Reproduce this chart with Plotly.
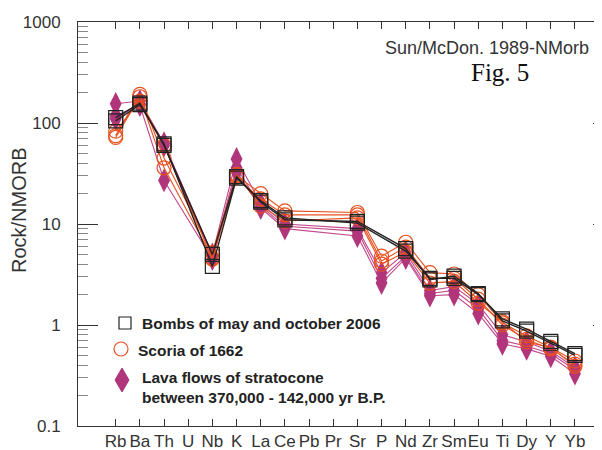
import plotly.graph_objects as go

categories = ["Rb", "Ba", "Th", "U", "Nb", "K", "La", "Ce", "Pb", "Pr",
              "Sr", "P", "Nd", "Zr", "Sm", "Eu", "Ti", "Dy", "Y", "Yb"]

# Values normalised to N-MORB (None = not analysed)
#            Rb   Ba   Th   U    Nb   K    La   Ce    Pb   Pr   Sr    P    Nd   Zr   Sm   Eu   Ti    Dy    Y     Yb
bombs_1  = [105, 152, 62, None, 3.8, 28.5, 17, 11.5, None, None, 10.2, None, 5.4, 2.9, 2.9, 2.0, 1.15, 0.91, 0.69, 0.52]
bombs_2  = [113, 157, 60, None, 5.0, 29.5, 16.5, 11.0, None, None, 10.6, None, 5.7, 2.8, 3.05, 2.05, 1.10, 0.87, 0.66, 0.50]

scoria_1 = [75, 192, 45, None, 5.2, 30, 20, 13.5, None, None, 13.0, 4.8, 6.6, 3.3, 3.2, 2.0, 1.05, 0.78, 0.60, 0.44]
scoria_2 = [72, 182, 36, None, 4.6, 29, 17.7, 12.3, None, None, 12.3, 4.3, 5.9, 2.9, 2.9, 1.8, 1.00, 0.72, 0.58, 0.41]
scoria_3 = [83, 165, 60, None, 4.5, 31, 15, 10.7, None, None, 11.5, 4.0, 5.3, 2.6, 2.7, 1.65, 1.08, 0.68, 0.60, 0.39]

lava_1   = [155, 165, 63, None, 5.0, 44, 16, 10.0, None, None, 9.0, 3.3, 5.2, 2.2, 2.4, 1.6, 0.80, 0.68, 0.55, 0.38]
lava_2   = [110, 155, 60, None, 4.8, 36, 15, 9.5, None, None, 8.5, 2.9, 4.8, 2.05, 2.2, 1.45, 0.70, 0.62, 0.52, 0.36]
lava_3   = [118, 150, 27, None, 4.5, 33, 14.4, 9.0, None, None, 7.6, 2.6, 4.6, 1.95, 2.0, 1.3, 0.65, 0.58, 0.49, 0.33]

y_tickvals = [0.1, 1, 10, 100, 1000]
y_ticktext = ["0.1", "1", "10", "100", "1000"]

legend_labels = ["Bombs of may and october 2006",
                 "Scoria of 1662",
                 "Lava flows of stratocone<br>between 370,000 - 142,000 yr B.P."]

BLACK = "#222222"
ORANGE = "#E8501E"
PURPLE = "#B0357A"
PURPLE_LINE = "#C4488C"
FONT = "Liberation Sans, Arial, sans-serif"

fig = go.Figure()

for ys in [lava_1, lava_2, lava_3]:
    fig.add_trace(go.Scatter(
        x=categories, y=ys, mode="lines+markers", connectgaps=True,
        line=dict(color=PURPLE_LINE, width=1.1),
        marker=dict(symbol="diamond-tall", size=17, color=PURPLE),
        showlegend=False, hoverinfo="skip"))

for ys in [scoria_1, scoria_2, scoria_3]:
    fig.add_trace(go.Scatter(
        x=categories, y=ys, mode="lines+markers", connectgaps=True,
        line=dict(color=ORANGE, width=1.1),
        marker=dict(symbol="circle-open", size=14, color=ORANGE, line=dict(width=1.2)),
        showlegend=False, hoverinfo="skip"))

for ys in [bombs_1, bombs_2]:
    fig.add_trace(go.Scatter(
        x=categories, y=ys, mode="lines+markers", connectgaps=True,
        line=dict(color=BLACK, width=1.4),
        marker=dict(symbol="square-open", size=14, color=BLACK, line=dict(width=1.2)),
        showlegend=False, hoverinfo="skip"))

minor_vals = [m * 10 ** e for e in range(-1, 3) for m in range(2, 10)]

# page body has an 8px margin: shrink figure so the plot area lands where it should
fig.update_layout(
    width=594, height=442,
    margin=dict(l=70, r=0, t=14, b=24),
    paper_bgcolor="white", plot_bgcolor="white",
    font=dict(family=FONT, color="#333333"),
    xaxis=dict(
        type="category", categoryorder="array", categoryarray=categories,
        range=[-1.56, 20.12],
        tickmode="array", tickvals=categories, ticktext=categories,
        tickangle=0,
        ticks="inside", ticklen=7, tickcolor="#333", tickwidth=1,
        showline=True, linecolor="#333", linewidth=1,
        showgrid=False, zeroline=False,
        tickfont=dict(size=17, family=FONT, color="#333"),
        ticklabelstandoff=0,
        automargin=False,
    ),
    xaxis2=dict(
        overlaying="x", side="top", range=[-1.56, 20.12],
        tickmode="array", tickvals=list(range(len(categories))),
        ticks="inside", ticklen=7, tickcolor="#333",
        showticklabels=False, showline=True, linecolor="#333", linewidth=1,
        showgrid=False, zeroline=False, automargin=False,
    ),
    yaxis=dict(
        type="log", range=[-1, 3],
        tickmode="array", tickvals=y_tickvals, ticktext=y_ticktext,
        ticks="inside", ticklen=20, tickcolor="#333", tickwidth=1,
        minor=dict(tickmode="array", tickvals=minor_vals, ticks="inside",
                   ticklen=10, tickcolor="#888", tickwidth=1, showgrid=False),
        showline=True, linecolor="#333", linewidth=1,
        showgrid=False, zeroline=False,
        tickfont=dict(size=17, family=FONT, color="#333"),
        ticklabelstandoff=13,
        automargin=False,
    ),
    yaxis2=dict(
        type="log", range=[-1, 3], overlaying="y", side="right",
        tickmode="array", tickvals=y_tickvals,
        ticks="inside", ticklen=9, tickcolor="#333",
        showticklabels=False, showline=False, showgrid=False, zeroline=False,
        automargin=False,
    ),
)

# dummy trace so the overlay axes are drawn
fig.add_trace(go.Scatter(x=[None], y=[None], xaxis="x2", yaxis="y2",
                         showlegend=False, hoverinfo="skip"))

# helpers: page pixel -> paper fraction of the plot area
def px_x(px):
    return (px - 78) / 524

def px_y(py):
    return (426 - py) / 404

annotations = [
    dict(text="Rock/NMORB", textangle=-90, x=px_x(19), y=px_y(210),
         xanchor="center", yanchor="middle", font=dict(size=20, family=FONT, color="#333")),
    dict(text="Sun/McDon. 1989-NMorb", x=px_x(591), y=px_y(48),
         xanchor="right", yanchor="middle", font=dict(size=18, family=FONT, color="#333")),
    dict(text="Fig. 5", x=px_x(531), y=px_y(72),
         xanchor="right", yanchor="middle",
         font=dict(size=25, family="Liberation Serif, Times New Roman, serif", color="#111")),
    dict(text="<b>" + legend_labels[0] + "</b>", x=px_x(140), y=px_y(323),
         xanchor="left", yanchor="middle", font=dict(size=15.5, family=FONT, color="#222")),
    dict(text="<b>" + legend_labels[1] + "</b>", x=px_x(136), y=px_y(350),
         xanchor="left", yanchor="middle", font=dict(size=15.5, family=FONT, color="#222")),
    dict(text="<b>" + legend_labels[2] + "</b>", x=px_x(140), y=px_y(387),
         xanchor="left", yanchor="middle", align="left",
         font=dict(size=15.5, family=FONT, color="#222")),
]
for a in annotations:
    a.update(xref="paper", yref="paper", showarrow=False)
fig.update_layout(annotations=annotations)

shapes = [
    dict(type="rect", xref="paper", yref="paper", xsizemode="pixel", ysizemode="pixel",
         xanchor=px_x(125), yanchor=px_y(323), x0=-6, x1=6, y0=-6, y1=6,
         line=dict(color=BLACK, width=1.2), fillcolor="rgba(0,0,0,0)"),
    dict(type="circle", xref="paper", yref="paper", xsizemode="pixel", ysizemode="pixel",
         xanchor=px_x(121), yanchor=px_y(349), x0=-7, x1=7, y0=-7, y1=7,
         line=dict(color=ORANGE, width=1.2), fillcolor="rgba(0,0,0,0)"),
    dict(type="path", xref="paper", yref="paper", xsizemode="pixel", ysizemode="pixel",
         xanchor=px_x(122), yanchor=px_y(380),
         path="M 0 12 L 7 0 L 0 -12 L -7 0 Z",
         line=dict(color=PURPLE, width=1), fillcolor=PURPLE),
]
fig.update_layout(shapes=shapes)

fig.write_html("out.html")
